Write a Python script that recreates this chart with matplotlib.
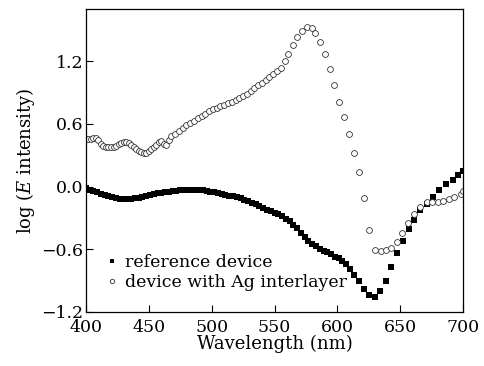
import matplotlib
matplotlib.use('Agg')
import matplotlib.pyplot as plt

plt.rcParams['font.family'] = ['DejaVu Serif']
plt.rcParams['mathtext.fontset'] = 'dejavuserif'

# reference device (filled squares)
ref_wl = [400, 403, 406, 409, 412, 415, 418, 421, 424, 427, 430, 433, 436, 439,
          442, 445, 448, 451, 454, 457, 460, 463, 466, 469, 472, 475, 478, 481,
          484, 487, 490, 493, 496, 499, 502, 505, 508, 511, 514, 517, 520, 523,
          526, 529, 532, 535, 538, 541, 544, 547, 550, 553, 556, 559, 562, 565,
          568, 571, 574, 577, 580, 583, 586, 589, 592, 595, 598, 601, 604, 607,
          610, 613, 617, 621, 625, 630, 634, 639, 643, 647, 652, 657, 661, 666,
          671, 676, 681, 686, 692, 696, 700]
ref_val = [-0.01, -0.03, -0.045, -0.055, -0.07, -0.08, -0.09, -0.10, -0.11, -0.115,
           -0.12, -0.12, -0.115, -0.11, -0.105, -0.10, -0.09, -0.08, -0.075, -0.065,
           -0.06, -0.055, -0.05, -0.045, -0.04, -0.037, -0.035, -0.033, -0.032, -0.032,
           -0.034, -0.037, -0.042, -0.049, -0.055, -0.06, -0.068, -0.077, -0.086, -0.095,
           -0.10, -0.11, -0.125, -0.14, -0.155, -0.17, -0.19, -0.205, -0.22, -0.235,
           -0.25, -0.265, -0.28, -0.31, -0.33, -0.37, -0.40, -0.44, -0.48, -0.52,
           -0.55, -0.57, -0.60, -0.62, -0.63, -0.65, -0.67, -0.68, -0.71, -0.74,
           -0.79, -0.85, -0.90, -0.98, -1.04, -1.06, -1.00, -0.90, -0.77, -0.64,
           -0.52, -0.41, -0.32, -0.22, -0.17, -0.10, -0.03, 0.02, 0.06, 0.11, 0.15]

# device with Ag interlayer (open circles)
ag_wl = [400, 402, 404, 406, 408, 410, 412, 414, 416, 418, 420, 422, 424, 426,
         428, 430, 432, 434, 436, 438, 440, 442, 444, 446, 448, 450, 452, 454,
         456, 458, 460, 462, 464, 466, 468, 471, 474, 477, 480, 483, 486, 489,
         492, 495, 498, 501, 504, 507, 510, 513, 516, 519, 522, 525, 528, 531,
         534, 537, 540, 543, 546, 549, 552, 555, 558, 561, 565, 568, 572, 576,
         580, 582, 586, 590, 594, 597, 601, 605, 609, 613, 617, 621, 625, 630,
         635, 639, 643, 647, 651, 656, 661, 666, 671, 675, 680, 684, 689, 693,
         698, 700]
ag_val = [0.46, 0.46, 0.46, 0.47, 0.47, 0.45, 0.41, 0.39, 0.38, 0.38, 0.38, 0.38,
          0.39, 0.41, 0.42, 0.43, 0.43, 0.42, 0.40, 0.38, 0.36, 0.34, 0.33, 0.32,
          0.32, 0.34, 0.36, 0.38, 0.40, 0.43, 0.44, 0.41, 0.40, 0.45, 0.48, 0.50,
          0.53, 0.56, 0.59, 0.61, 0.63, 0.66, 0.68, 0.70, 0.72, 0.74, 0.75, 0.77,
          0.78, 0.80, 0.81, 0.83, 0.85, 0.87, 0.89, 0.92, 0.94, 0.97, 0.99, 1.02,
          1.05, 1.08, 1.11, 1.14, 1.20, 1.27, 1.36, 1.43, 1.49, 1.53, 1.52, 1.47,
          1.39, 1.27, 1.13, 0.97, 0.81, 0.67, 0.50, 0.32, 0.14, -0.11, -0.42, -0.61,
          -0.62, -0.61, -0.59, -0.53, -0.44, -0.35, -0.26, -0.20, -0.15, -0.15, -0.15,
          -0.14, -0.12, -0.10, -0.07, -0.04]

xticks = [400, 450, 500, 550, 600, 650, 700]
yticks = [-1.2, -0.6, 0.0, 0.6, 1.2]

fig = plt.figure(figsize=(4.85, 3.66), dpi=100)
ax = fig.add_axes([0.177, 0.148, 0.778, 0.827])

ax.plot(ref_wl, ref_val, 's', color='black', markersize=4.2, markeredgewidth=0,
        label='reference device')
ax.plot(ag_wl, ag_val, 'o', markerfacecolor='white', markeredgecolor='#333333',
        markersize=4.2, markeredgewidth=0.6, label='device with Ag interlayer')

ax.set_xlim(400, 700)
ax.set_ylim(-1.2, 1.7)
ax.set_xticks(xticks)
ax.set_yticks(yticks)
ax.set_yticklabels(['\u22121.2', '\u22120.6', '0.0', '0.6', '1.2'])
ax.tick_params(direction='in', length=5, width=0.8, labelsize=12.5,
               top=False, right=False)
ax.tick_params(axis='x', pad=5)
ax.tick_params(axis='y', pad=2)
for s in ax.spines.values():
    s.set_linewidth(0.9)

ax.set_xlabel('Wavelength (nm)', fontsize=13, labelpad=-1)
ax.set_ylabel(r'log ($E$ intensity)', fontsize=13, labelpad=3)

ax.legend(loc='lower left', bbox_to_anchor=(0.02, 0.035), frameon=False,
          fontsize=12.5, handletextpad=0.2, handlelength=1.0, markerscale=0.75,
          labelspacing=0.15, borderaxespad=0.2)

fig.savefig('out.png', dpi=100)
